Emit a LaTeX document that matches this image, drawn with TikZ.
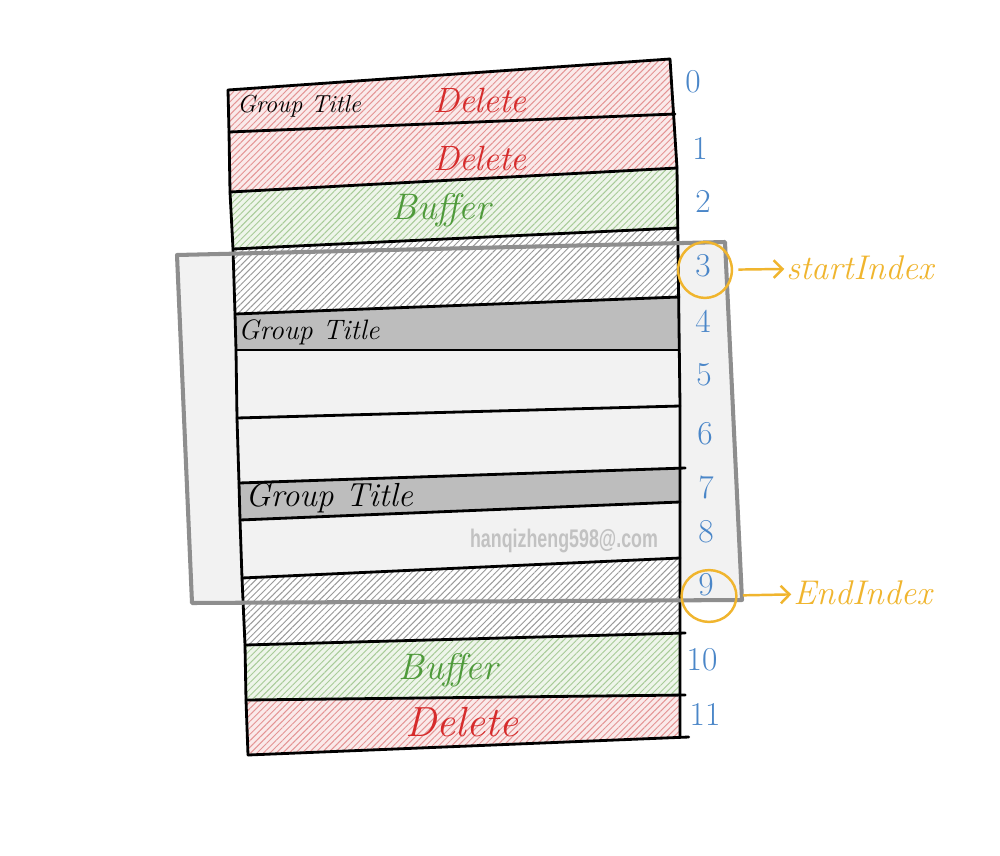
\documentclass[tikz,border=0pt]{standalone}
\usepackage{fontspec}
\newfontfamily\wmfont{Liberation Sans}
\usetikzlibrary{patterns.meta,shapes.geometric,arrows.meta}
\definecolor{delred}{HTML}{D62B2B}
\definecolor{bufgreen}{HTML}{4E9A3A}
\definecolor{numblue}{HTML}{4A86C8}
\definecolor{idxorange}{HTML}{F0B52E}
\definecolor{hred}{HTML}{E49494}
\definecolor{hgreen}{HTML}{A8CB98}
\definecolor{hgray}{HTML}{9A9A9A}
\definecolor{solidgray}{HTML}{BDBDBD}
\definecolor{boxfill}{HTML}{F2F2F2}
\definecolor{boxline}{HTML}{8E8E8E}
\definecolor{wmgray}{HTML}{C2C2C2}
\tikzset{
  hatchrow/.style={pattern={Lines[angle=45,distance=2.6pt,line width=0.55pt]}},
  redrow/.style={preaction={fill=hred!20},hatchrow,pattern color=hred},
  greenrow/.style={preaction={fill=hgreen!20},hatchrow,pattern color=hgreen},
  grayrow/.style={preaction={fill=white},hatchrow,pattern color=hgray},
  solidrow/.style={fill=solidgray},
  tline/.style={draw=black,line width=1.6pt,line cap=round,line join=round},
  boxedge/.style={draw=boxline,line width=2.3pt,line join=round,line cap=round},
  gtitle/.style={anchor=west,inner sep=0pt,font=\itshape},
  dellabel/.style={text=delred,inner sep=0pt},
  buflabel/.style={text=bufgreen,inner sep=0pt},
  numlabel/.style={text=numblue,inner sep=0pt,font=\fontsize{19}{19}\selectfont},
  idxellipse/.style={draw=idxorange,ellipse,line width=1.4pt,inner sep=0pt},
  idxarrow/.style={draw=idxorange,line width=1.4pt,-{Straight Barb[length=5pt,width=10pt]}},
  idxlabel/.style={text=idxorange,anchor=west,inner sep=0pt,font=\itshape\fontsize{19.5}{19.5}\selectfont}
}
\begin{document}
\begin{tikzpicture}[x=0.02cm,y=-0.02cm]
\useasboundingbox (0,0) rectangle (1000,855);
\fill[white] (0,0) rectangle (1000,855);
% boundary coordinates
\coordinate (L0) at (228,90);  \coordinate (R0) at (670,59);
\coordinate (L1) at (229,132); \coordinate (R1) at (675,114);
\coordinate (L2) at (230,192); \coordinate (R2) at (677,168);
\coordinate (L3) at (233,249); \coordinate (R3) at (678,228);
\coordinate (L4) at (235,314); \coordinate (R4) at (679,297);
\coordinate (L5) at (236,350); \coordinate (R5) at (679,350);
\coordinate (L6) at (237,418); \coordinate (R6) at (680,406);
\coordinate (L7) at (239,483); \coordinate (R7) at (680,468);
\coordinate (L8) at (240,520); \coordinate (R8) at (680,502);
\coordinate (L9) at (242,578); \coordinate (R9) at (680,558);
\coordinate (L10) at (245,645); \coordinate (R10) at (680,633);
\coordinate (L11) at (246,700); \coordinate (R11) at (680,695);
\coordinate (L12) at (248,755); \coordinate (R12) at (680,737);
% overlay box corners
\coordinate (B1) at (177,255); \coordinate (B2) at (725,242);
\coordinate (B3) at (742,600); \coordinate (B4) at (192,603);
% box fill
\fill[boxfill] (B1) -- (B2) -- (B3) -- (B4) -- cycle;
% rows
\path[redrow] (L0) -- (R0) -- (R1) -- (L1) -- cycle;
\path[redrow] (L1) -- (R1) -- (R2) -- (L2) -- cycle;
\path[greenrow] (L2) -- (R2) -- (R3) -- (L3) -- cycle;
\path[grayrow] (L3) -- (R3) -- (R4) -- (L4) -- cycle;
\path[solidrow] (L4) -- (R4) -- (R5) -- (L5) -- cycle;
\path[solidrow] (L7) -- (R7) -- (R8) -- (L8) -- cycle;
\path[grayrow] (L9) -- (R9) -- (R10) -- (L10) -- cycle;
\path[greenrow] (L10) -- (R10) -- (R11) -- (L11) -- cycle;
\path[redrow] (L11) -- (R11) -- (R12) -- (L12) -- cycle;
% row lines
\foreach \i in {0,...,6,8,9} { \draw[tline] (L\i) -- (R\i); }
\foreach \i in {7,10,11} { \draw[tline] (L\i) -- ([xshift=3pt]R\i); }
\draw[tline] (L12) -- ([xshift=5pt]R12);
\draw[tline] (L0) -- (L1) -- (L2) -- (L3) -- (L4) -- (L5) -- (L6) -- (L7) -- (L8) -- (L9) -- (L10) -- (L11) -- (L12);
\draw[tline] (R0) -- (R2) -- (R6) -- (R12);
% box border
\draw[boxedge] (B1) -- (B2) -- (B3) -- (B4) -- cycle;
% labels in rows
\node[gtitle,font=\itshape\fontsize{14}{14}\selectfont] (gt0) at (237,106) {Group Title};
\node[dellabel,font=\itshape\fontsize{20}{20}\selectfont] (d0) at (480,100) {Delete};
\node[dellabel,font=\itshape\fontsize{20}{20}\selectfont] (d1) at (480,158) {Delete};
\node[buflabel,font=\itshape\fontsize{21}{21}\selectfont] (b2) at (441,210) {Buffer};
\node[gtitle,font=\itshape\fontsize{16}{16}\selectfont] (gt4) at (238,332) {Group Title};
\node[gtitle,font=\itshape\fontsize{19}{19}\selectfont] (gt7) at (245,498) {Group Title};
\node[text=wmgray,inner sep=0pt,font=\wmfont\bfseries\fontsize{14.5}{14.5}\selectfont,xscale=0.7] (wm) at (564,541) {hanqizheng598@.com};
\node[buflabel,font=\itshape\fontsize{21}{21}\selectfont] (b10) at (448,670) {Buffer};
\node[dellabel,font=\itshape\fontsize{24}{24}\selectfont] (d11) at (462,722) {Delete};
% index numbers
\node[numlabel] (n0) at (693,82) {0};
\node[numlabel] (n1) at (700,148) {1};
\node[numlabel] (n2) at (703,201) {2};
\node[numlabel] (n3) at (703,266) {3};
\node[numlabel] (n4) at (703,321) {4};
\node[numlabel] (n5) at (704,375) {5};
\node[numlabel] (n6) at (705,434) {6};
\node[numlabel] (n7) at (706,487) {7};
\node[numlabel] (n8) at (706,532) {8};
\node[numlabel] (n9) at (706,585) {9};
\node[numlabel] (n10) at (702,660) {10};
\node[numlabel] (n11) at (705,714) {11};
% highlighted indices
\node[idxellipse,minimum width=30.6pt,minimum height=31.8pt] (e3) at (705,270) {};
\node[idxellipse,minimum width=31.2pt,minimum height=29.5pt] (e9) at (709,596) {};
\node[idxlabel] (si) at (786,268) {startIndex};
\node[idxlabel] (ei) at (793,593) {EndIndex};
\draw[idxarrow,shorten <=3pt,shorten >=1pt] (e3) -- (si);
\draw[idxarrow,shorten <=3pt,shorten >=1pt] (e9) -- (ei);
\end{tikzpicture}
\end{document}
